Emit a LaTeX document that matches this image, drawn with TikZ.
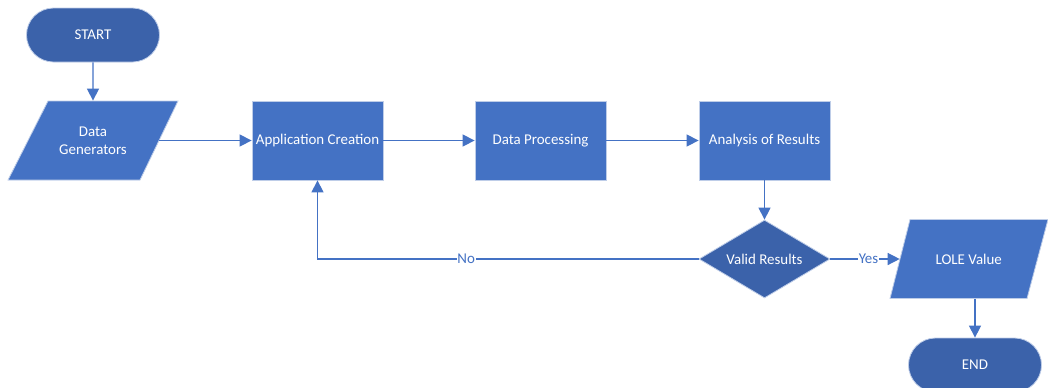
\documentclass[tikz,border=0pt]{standalone}
\usepackage{fontspec}
\setmainfont{Carlito}
\usetikzlibrary{shapes.geometric,shapes.misc,arrows.meta}
\definecolor{boxblue}{RGB}{68,114,196}
\definecolor{darkblue}{RGB}{59,98,170}
\definecolor{edgeblue}{RGB}{190,205,232}
\definecolor{lineblue}{RGB}{68,114,196}
\tikzset{
  px/.style={x=0.75pt,y=-0.75pt},
  base/.style={text=white,font=\fontsize{11.2}{13.4}\selectfont,align=center,inner sep=0pt,line width=0.6pt},
  procbox/.style={base,rectangle,fill=boxblue,draw=edgeblue,minimum width=98.25pt,minimum height=59.25pt},
  termbox/.style={base,rounded rectangle,fill=darkblue,draw=edgeblue,minimum width=99.75pt,minimum height=40.5pt},
  iotext/.style={base,rectangle,minimum height=59.25pt},
  ioshape/.style={fill=boxblue,draw=edgeblue,line width=0.6pt},
  decbox/.style={base,diamond,aspect=1.68,fill=darkblue,draw=edgeblue,minimum width=98.25pt,minimum height=58.5pt},
  conn/.style={draw=lineblue,line width=1pt,-{Triangle[length=9pt,width=9pt]}},
  lbl/.style={fill=white,text=lineblue,font=\fontsize{11.2}{13.4}\selectfont,inner sep=0.5pt}
}
\begin{document}
\begin{tikzpicture}[px]
\useasboundingbox (0,0) rectangle (1048,387);
% parallelogram outlines
\path[ioshape] (48,101) -- (178,101) -- (140,180) -- (8,180) -- cycle;
\path[ioshape] (910,219.5) -- (1048,219.5) -- (1027,298.5) -- (890,298.5) -- cycle;
\node[termbox] (start) at (93,35) {START};
\node[iotext,minimum width=99pt] (dg) at (93,140.5) {Data\\Generators};
\node[procbox] (app) at (317.5,140.5) {Application Creation};
\node[procbox] (proc) at (540.5,140.5) {Data Processing};
\node[procbox] (ana) at (764.5,140.5) {Analysis of Results};
\node[decbox] (valid) at (764.5,259) {Valid Results};
\node[iotext,minimum width=103pt] (lole) at (968.75,259) {LOLE Value};
\node[termbox] (end) at (975,365) {END};
\coordinate (corner) at (317.5,259);
\draw[conn] (start) -- (dg);
\draw[conn] (dg.east) -- (app.west);
\draw[conn] (app) -- (proc);
\draw[conn] (proc) -- (ana);
\draw[conn] (ana) -- (valid);
\draw[conn] (valid.east) -- node[lbl,pos=0.55]{Yes} (lole.west);
\draw[conn] (valid.west) -- node[lbl,pos=0.61]{No} (corner) -- (app.south);
\draw[conn] (lole.south -| end.north) -- (end.north);
\end{tikzpicture}
\end{document}
